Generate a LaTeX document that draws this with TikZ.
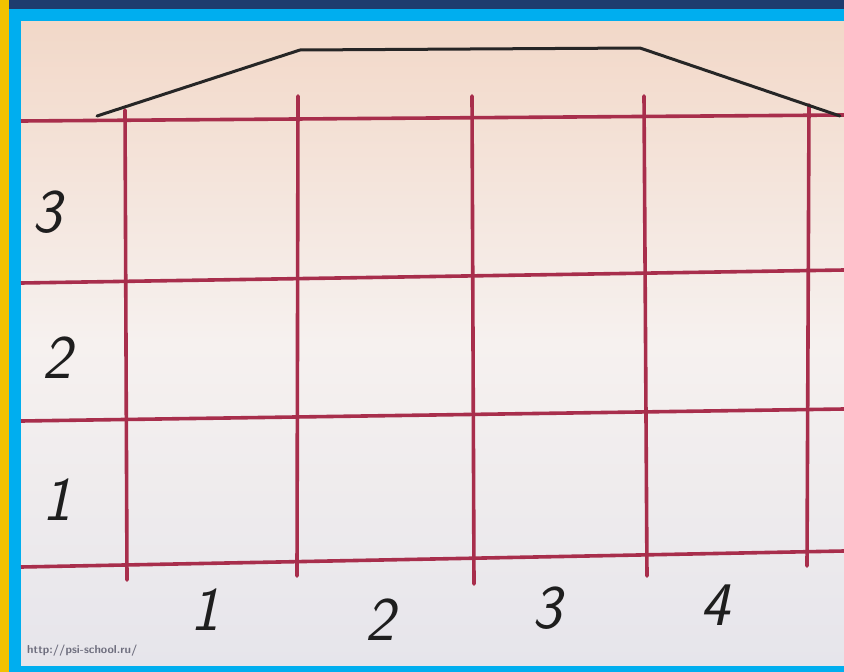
\documentclass[tikz,border=0pt]{standalone}
\usepackage{fontspec}
\definecolor{gridred}{HTML}{A82E4C}
\definecolor{framblue}{HTML}{00AEEF}
\definecolor{topnavy}{HTML}{1E3C6E}
\definecolor{sideyellow}{HTML}{F2C200}
\definecolor{papertop}{HTML}{F2D8C8}
\definecolor{papermid}{HTML}{F6F1EF}
\definecolor{paperbot}{HTML}{E6E5EB}
\definecolor{roofgrey}{HTML}{262626}
\definecolor{digitgrey}{HTML}{1E1E1E}
\definecolor{urlgrey}{HTML}{6E6E7E}
\begin{document}
\begin{tikzpicture}[x=1pt,y=-1pt,
  gridline/.style={draw=gridred,line width=3.6pt,line cap=round},
  roofline/.style={draw=roofgrey,line width=3pt,line join=round,line cap=round},
  digit/.style={text=digitgrey,font=\fontsize{62}{62}\selectfont\sffamily\slshape,inner sep=0pt},
  urltext/.style={text=urlgrey,font=\fontsize{11.5}{11.5}\selectfont\sffamily\bfseries,inner sep=0pt,anchor=west}]
\useasboundingbox (0,0) rectangle (844,672);
% frame
\fill[topnavy] (0,0) rectangle (844,9);
\fill[sideyellow] (0,0) rectangle (9,672);
\fill[framblue] (9,9) rectangle (844,21);
\fill[framblue] (9,9) rectangle (21,672);
\fill[framblue] (9,665) rectangle (844,672);
% paper
\shade[top color=papertop,bottom color=paperbot,middle color=papermid] (21,21) rectangle (844,665);
% horizontal lines
\coordinate (h1l) at (21,121); \coordinate (h1r) at (844,115);
\coordinate (h2l) at (21,283); \coordinate (h2r) at (844,270);
\coordinate (h3l) at (21,421); \coordinate (h3r) at (844,409);
\coordinate (h4l) at (21,567); \coordinate (h4r) at (844,551);
\foreach \i in {1,2,3,4} \draw[gridline,line cap=butt] (h\i l) -- (h\i r);
% verticals
\coordinate (v1t) at (125,110); \coordinate (v1b) at (127,580);
\coordinate (v2t) at (298,96);  \coordinate (v2b) at (297,576);
\coordinate (v3t) at (472,96);  \coordinate (v3b) at (474,584);
\coordinate (v4t) at (644,96);  \coordinate (v4b) at (647,576);
\coordinate (v5t) at (809,105); \coordinate (v5b) at (807,566);
\foreach \i in {1,...,5} \draw[gridline] (v\i t) -- (v\i b);
% roof
\coordinate (r1) at (97,116);
\coordinate (r2) at (300,50);
\coordinate (r3) at (640,48);
\coordinate (r4) at (840,116);
\draw[roofline] (r1) -- (r2) -- (r3) -- (r4);
% row labels
\node[digit] (row3) at (47,212) {3};
\node[digit] (row2) at (57,358) {2};
\node[digit] (row1) at (57,500) {1};
% column labels
\node[digit] (col1) at (205,610) {1};
\node[digit] (col2) at (380,620) {2};
\node[digit] (col3) at (547,608) {3};
\node[digit] (col4) at (715,605) {4};
% url
\node[urltext] (url) at (27,651) {http://psi-school.ru/};
\end{tikzpicture}
\end{document}
